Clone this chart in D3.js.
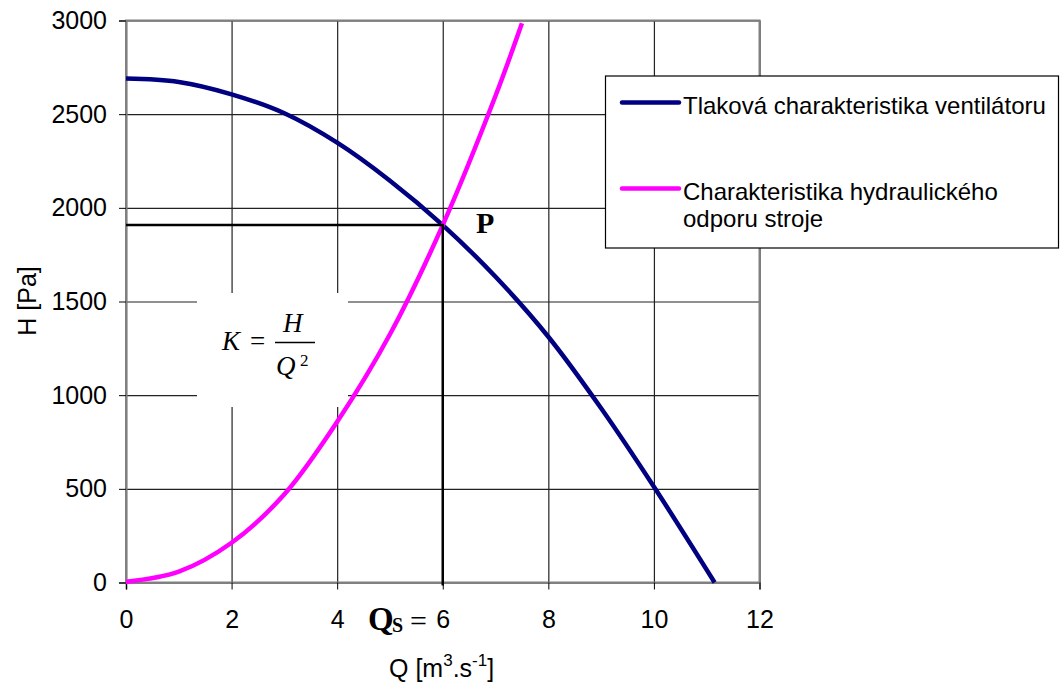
<!DOCTYPE html>
<html>
<head>
<meta charset="utf-8">
<script src="https://cdn.jsdelivr.net/npm/d3@7"></script>
<style>
  body { margin: 0; background: #fff; }
  svg { display: block; }
</style>
</head>
<body>
<svg id="chart" width="1060" height="686"></svg>
<script>
// data
var qTicks = [0, 2, 4, 6, 8, 10, 12];
var hTicks = [0, 500, 1000, 1500, 2000, 2500, 3000];

// fan pressure characteristic
var fanQ = [0, 1, 2, 3, 4, 5, 6, 7, 8, 9, 10, 11.15];
var fanH = [2690, 2672, 2606, 2505, 2348, 2145, 1908, 1632, 1312, 930, 511, 0];

// hydraulic resistance  H = K Q^2
var resQ = [0, 1, 2, 3, 4, 5, 6, 7, 7.5];
var resH = [4, 58, 212, 471, 858, 1325, 1908, 2598, 2985];

// operating point P
var pointQ = 6;
var pointH = 1908;

var legendLabels = [
    ["Tlaková charakteristika ventilátoru"],
    ["Charakteristika hydraulického", "odporu stroje"]
];
var colors = ["#000080", "#ff00ff"];

var svg = d3.select("#chart");
var sans = "'Liberation Sans', Arial, sans-serif";
var serif = "'Liberation Serif', 'Times New Roman', serif";

var x = d3.scaleLinear().domain([0, 12]).range([126, 759.5]);
var y = d3.scaleLinear().domain([0, 3000]).range([582.5, 20.5]);

// grid
svg.append("g")
    .attr("transform", "translate(0," + y(0) + ")")
    .call(d3.axisBottom(x).tickValues(qTicks).tickSize(-(y(0) - y(3000))).tickFormat(""))
    .call(g => g.select(".domain").remove())
    .selectAll("line").attr("stroke", "#222").attr("stroke-width", 1.2);
svg.append("g")
    .attr("transform", "translate(" + x(0) + ",0)")
    .call(d3.axisLeft(y).tickValues(hTicks).tickSize(-(x(12) - x(0))).tickFormat(""))
    .call(g => g.select(".domain").remove())
    .selectAll("line").attr("stroke", "#222").attr("stroke-width", 1.2);

// plot border
svg.append("rect")
    .attr("x", x(0)).attr("y", y(3000))
    .attr("width", x(12) - x(0)).attr("height", y(0) - y(3000))
    .attr("fill", "none").attr("stroke", "#808080").attr("stroke-width", 2);

// white box behind the formula
svg.append("rect")
    .attr("x", 197).attr("y", 293).attr("width", 151).attr("height", 114)
    .attr("fill", "#fff");

// axes
var xAxis = svg.append("g")
    .attr("transform", "translate(0," + y(0) + ")")
    .call(d3.axisBottom(x).tickValues(qTicks).tickSize(7).tickPadding(21).tickFormat(d3.format("d")));
var yAxis = svg.append("g")
    .attr("transform", "translate(" + x(0) + ",0)")
    .call(d3.axisLeft(y).tickValues(hTicks).tickSize(7).tickPadding(12).tickFormat(d3.format("d")));
[xAxis, yAxis].forEach(function (g) {
    g.select(".domain").attr("stroke", "#808080").attr("stroke-width", 2);
    g.selectAll(".tick line").attr("stroke", "#000");
    g.selectAll("text").attr("font-family", sans).attr("font-size", 25).attr("fill", "#000");
});

// curves
var line = d3.line().x(d => x(d[0])).y(d => y(d[1])).curve(d3.curveCatmullRom.alpha(0.5));
var series = [d3.zip(fanQ, fanH), d3.zip(resQ, resH)];
series.forEach(function (pts, i) {
    svg.append("path").datum(pts)
        .attr("d", line)
        .attr("fill", "none")
        .attr("stroke", colors[i])
        .attr("stroke-width", 4.5)
        .attr("stroke-linejoin", "round");
});

// operating point guide lines
svg.append("path")
    .attr("d", "M" + x(0) + "," + y(pointH) + "H" + x(pointQ) + "V" + (y(0) + 3))
    .attr("fill", "none").attr("stroke", "#000").attr("stroke-width", 2.5);

svg.append("text")
    .attr("x", 476).attr("y", 233)
    .attr("font-family", serif).attr("font-weight", "bold").attr("font-size", 30)
    .text("P");

// Qs = label next to tick 6
var qs = svg.append("g").attr("font-family", serif);
qs.append("text").attr("x", 368).attr("y", 630)
    .attr("font-weight", "bold").attr("font-size", 33).text("Q");
qs.append("text").attr("x", 392).attr("y", 631.5)
    .attr("font-weight", "bold").attr("font-size", 20).text("S");
qs.append("text").attr("x", 410).attr("y", 631)
    .attr("font-size", 30).text("=");

// formula K = H / Q^2
var f = svg.append("g").attr("font-family", serif).attr("font-style", "italic").attr("font-size", 27);
f.append("text").attr("x", 222).attr("y", 350).text("K");
f.append("text").attr("x", 250).attr("y", 350).attr("font-style", "normal").text("=");
f.append("line").attr("x1", 275).attr("x2", 315).attr("y1", 342.5).attr("y2", 342.5)
    .attr("stroke", "#000").attr("stroke-width", 1.3);
f.append("text").attr("x", 283).attr("y", 332).text("H");
f.append("text").attr("x", 276).attr("y", 375).text("Q");
f.append("text").attr("x", 300).attr("y", 366).attr("font-style", "normal").attr("font-size", 17).text("2");

// axis titles
var xt = svg.append("text")
    .attr("x", 389).attr("y", 677)
    .attr("font-family", sans).attr("font-size", 25);
xt.append("tspan").text("Q [m");
xt.append("tspan").attr("font-size", 17).attr("dy", -11).text("3");
xt.append("tspan").attr("dy", 11).text(".s");
xt.append("tspan").attr("font-size", 17).attr("dy", -11).text("-1");
xt.append("tspan").attr("dy", 11).text("]");

svg.append("text")
    .attr("transform", "translate(36,301) rotate(-90)")
    .attr("text-anchor", "middle")
    .attr("font-family", sans).attr("font-size", 25)
    .text("H [Pa]");

// legend
var lg = svg.append("g");
lg.append("rect")
    .attr("x", 605.5).attr("y", 76).attr("width", 453).attr("height", 172)
    .attr("fill", "#fff").attr("stroke", "#000").attr("stroke-width", 1.2);
var legendY = [102.5, 188.5];
legendLabels.forEach(function (lines, i) {
    lg.append("line")
        .attr("x1", 622).attr("x2", 679)
        .attr("y1", legendY[i]).attr("y2", legendY[i])
        .attr("stroke", colors[i]).attr("stroke-width", 4.5).attr("stroke-linecap", "round");
    lines.forEach(function (t, j) {
        lg.append("text")
            .attr("x", 683).attr("y", legendY[i] + 11 + j * 27.5)
            .attr("font-family", sans).attr("font-size", 24)
            .text(t);
    });
});
</script>
</body>
</html>
